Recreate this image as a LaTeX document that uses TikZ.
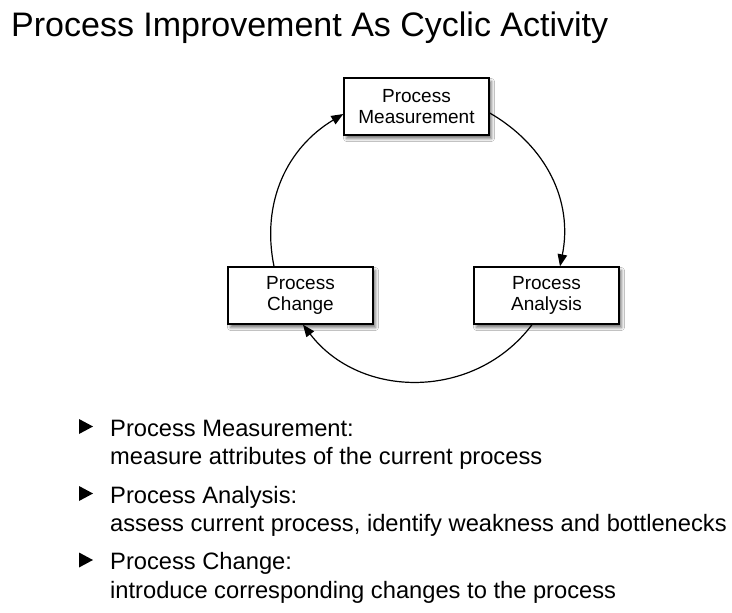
\documentclass[tikz,border=0pt]{standalone}
\usepackage{fontspec}
\setmainfont{Liberation Sans}
\usetikzlibrary{arrows.meta,shadows.blur}
\tikzset{
  procbox/.style={draw=black, line width=1.4pt, fill=white, minimum width=145pt, minimum height=57pt,
    align=center, inner sep=0pt, font=\fontsize{19}{21}\selectfont,
    blur shadow={shadow xshift=2.5pt, shadow yshift=-3.5pt, shadow blur radius=3pt, shadow opacity=55}},
  conn/.style={draw=black, line width=1.2pt, -{Triangle[length=12pt,width=9.5pt]}},
  itemtext/.style={anchor=base west, align=left, inner sep=0pt, font=\fontsize{23.7}{28.5}\selectfont},
  bulletmark/.style={fill=black, draw=none}
}
\begin{document}
\begin{tikzpicture}[x=1pt,y=1pt]
\useasboundingbox (0,0) rectangle (732,-613);
\fill[white] (0,0) rectangle (732,-613);
\node[anchor=base west, inner sep=0pt, font=\fontsize{34}{40}\selectfont] (title) at (11,-37) {Process Improvement As Cyclic Activity};
\node[procbox] (m) at (416.5,-106.5) {Process\\Measurement};
\node[procbox] (c) at (300.5,-295.5) {Process\\Change};
\node[procbox] (a) at (546.5,-295.5) {Process\\Analysis};
\draw[conn] ([yshift=-6.5pt]m.east) to[out=-30,in=78.5] ([xshift=13.5pt]a.north);
\draw[conn] ([xshift=-14.5pt]a.south) to[out=-127,in=-52.6,looseness=1.06] ([xshift=2.5pt]c.south);
\draw[conn] ([xshift=-26.5pt]c.north) to[out=101.5,in=211] ([yshift=-7.5pt]m.west);
\node[itemtext] (i1) at (110,-464.5) {Process Measurement:\\measure attributes of the current process};
\node[itemtext] (i2) at (110,-531.5) {Process Analysis:\\assess current process, identify weakness and bottlenecks};
\node[itemtext] (i3) at (110,-598) {Process Change:\\introduce corresponding changes to the process};
\fill[bulletmark] (79,-419) -- (93,-426.5) -- (79,-434) -- cycle;
\fill[bulletmark] (79,-486) -- (93,-493.5) -- (79,-501) -- cycle;
\fill[bulletmark] (79,-552.5) -- (93,-560) -- (79,-567.5) -- cycle;
\end{tikzpicture}
\end{document}
